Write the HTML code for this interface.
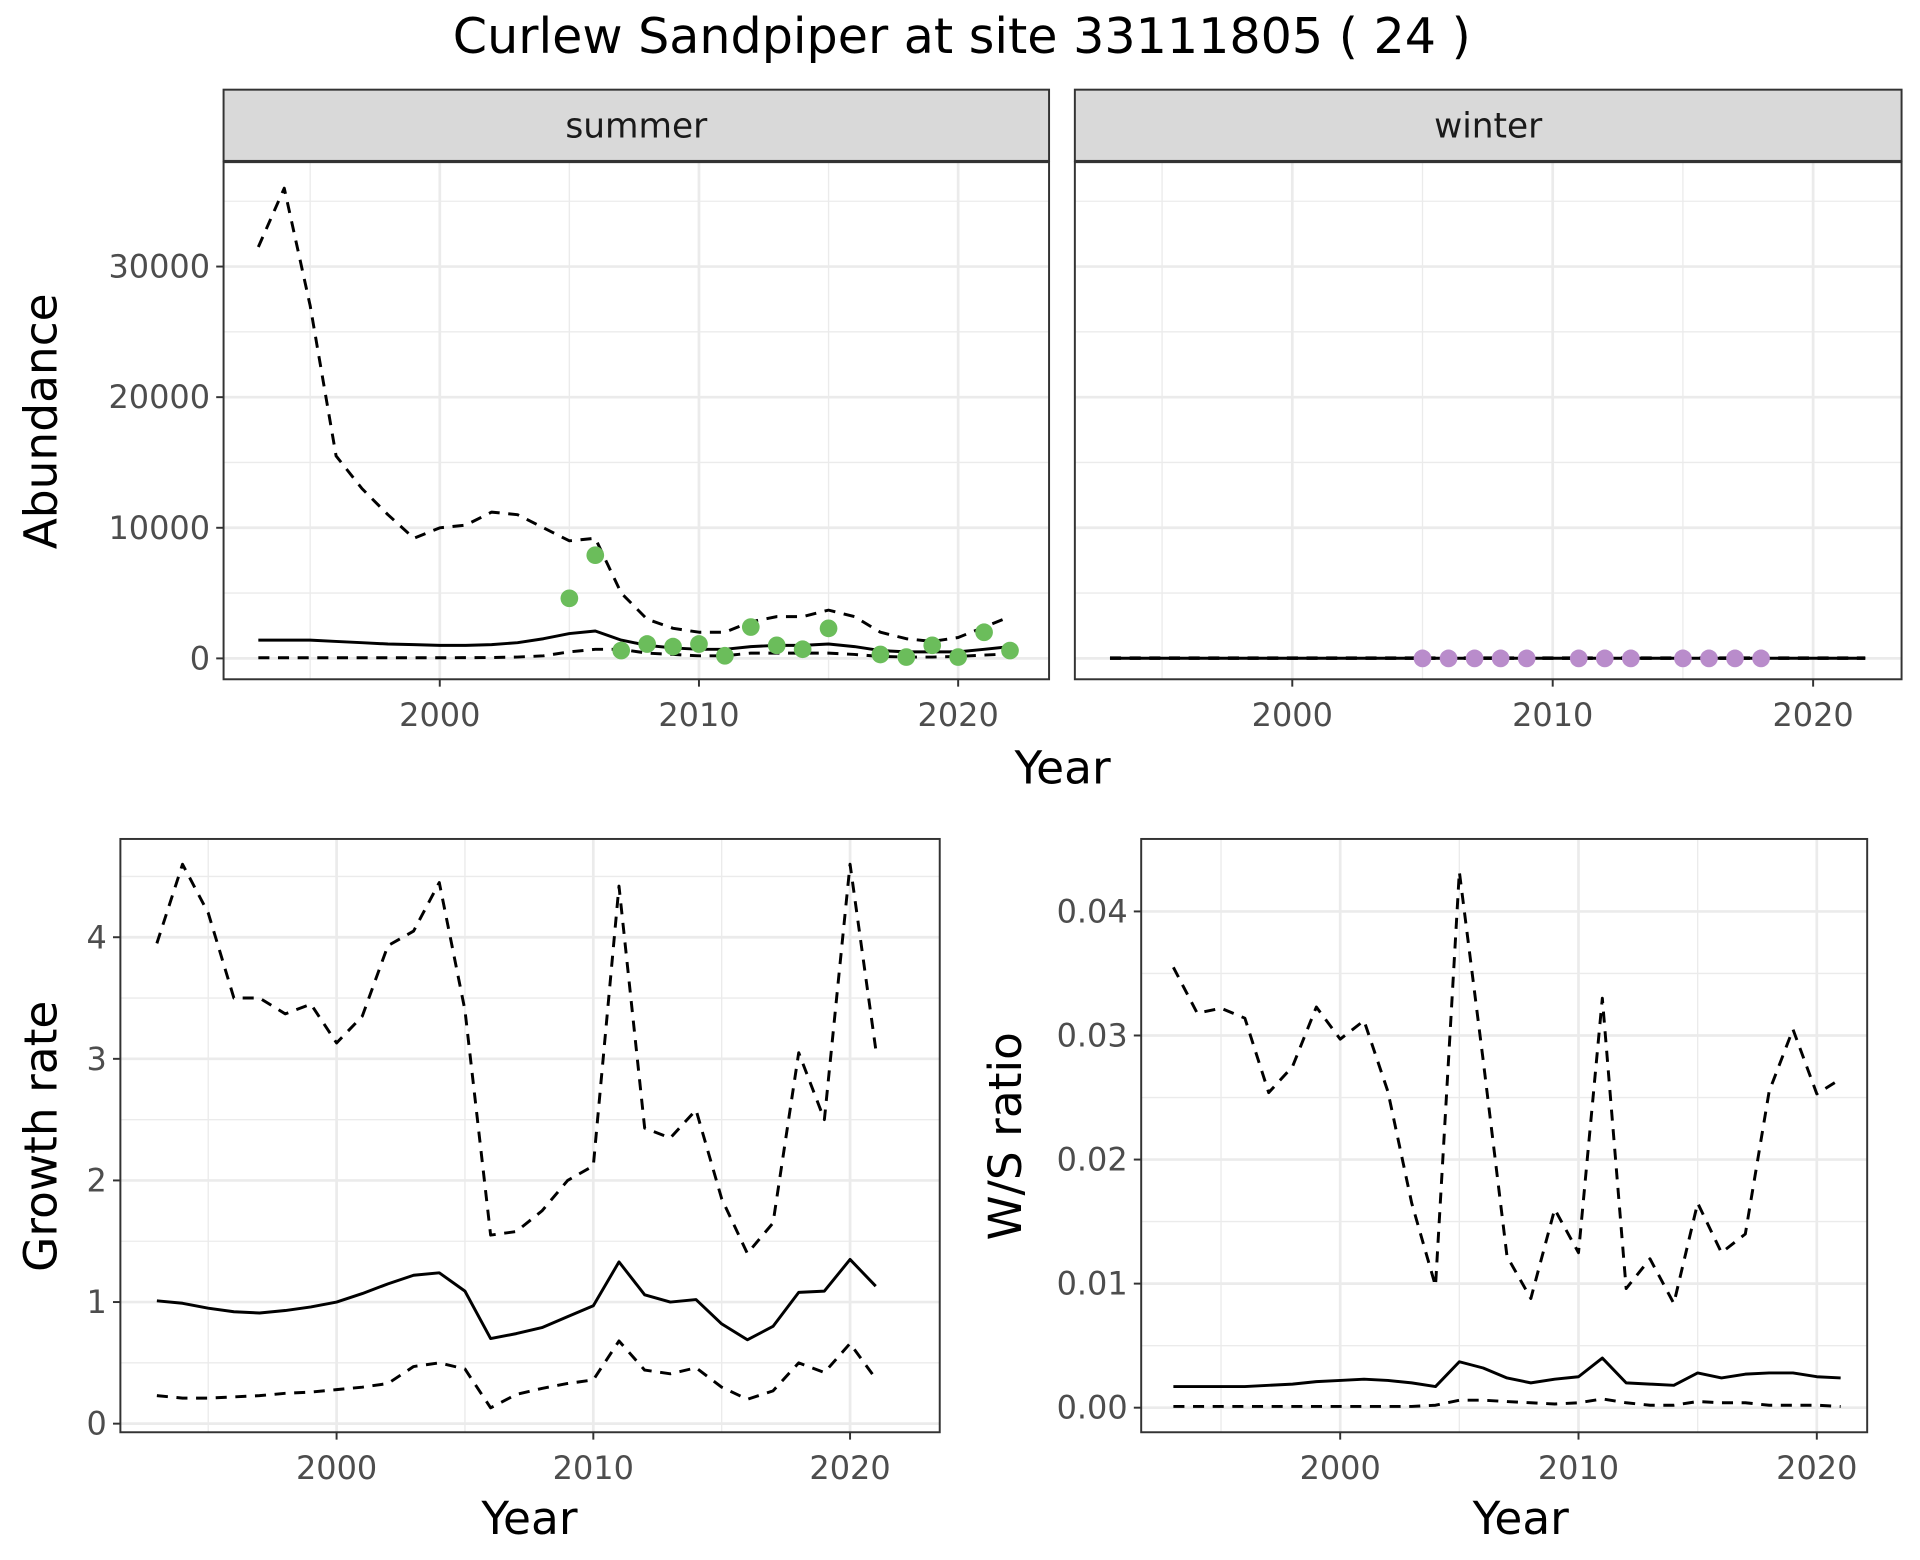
<!DOCTYPE html>
<html><head><meta charset="utf-8"><style>
html,body{margin:0;padding:0;background:#fff}
svg{display:block}
text{font-family:"DejaVu Sans","Liberation Sans",sans-serif}
</style></head><body>
<svg id="chart" width="1920" height="1560" viewBox="0 0 1563 1270" preserveAspectRatio="none" xmlns="http://www.w3.org/2000/svg">
<text x="783" y="43" font-size="40" text-anchor="middle" fill="#000">Curlew Sandpiper at site 33111805 ( 24 )</text>
</svg>
<script>
const yearsTop = [1993,1994,1995,1996,1997,1998,1999,2000,2001,2002,2003,2004,2005,2006,2007,2008,2009,2010,2011,2012,2013,2014,2015,2016,2017,2018,2019,2020,2021,2022];
const summerUpper = [31500,36000,27000,15500,13000,11000,9200,10000,10200,11200,11000,10000,9000,9200,5000,3000,2300,2000,2000,2800,3200,3200,3700,3200,2000,1500,1300,1600,2400,3200];
const summerMean = [1400,1400,1400,1300,1200,1100,1050,1000,1000,1050,1200,1500,1900,2100,1400,1000,800,700,700,900,1000,1000,1100,900,600,500,500,500,700,900];
const summerLower = [50,50,50,50,50,50,50,50,60,70,100,200,500,700,700,400,300,200,200,400,400,400,400,300,150,100,100,150,250,350];
const summerPtYears = [2005,2006,2007,2008,2009,2010,2011,2012,2013,2014,2015,2017,2018,2019,2020,2021,2022];
const summerPtVals = [4600,7900,600,1100,900,1100,200,2400,1000,700,2300,300,100,1000,100,2000,600];
const winterUpper = yearsTop.map(()=>40);
const winterMean = yearsTop.map(()=>10);
const winterLower = yearsTop.map(()=>0);
const winterPtYears = [2005,2006,2007,2008,2009,2011,2012,2013,2015,2016,2017,2018];
const winterPtVals = [0,0,0,0,0,0,0,0,0,0,0,0];
const yearsBot = [1993,1994,1995,1996,1997,1998,1999,2000,2001,2002,2003,2004,2005,2006,2007,2008,2009,2010,2011,2012,2013,2014,2015,2016,2017,2018,2019,2020,2021];
const grUpper = [3.95,4.6,4.2,3.5,3.5,3.37,3.45,3.13,3.35,3.93,4.05,4.45,3.4,1.55,1.58,1.75,2.0,2.12,4.42,2.43,2.35,2.58,1.85,1.4,1.65,3.05,2.5,4.6,3.08];
const grMean = [1.01,0.99,0.95,0.92,0.91,0.93,0.96,1.0,1.07,1.15,1.22,1.24,1.09,0.7,0.74,0.79,0.88,0.97,1.33,1.06,1.0,1.02,0.82,0.69,0.8,1.08,1.09,1.35,1.13];
const grLower = [0.23,0.21,0.21,0.22,0.23,0.25,0.26,0.28,0.3,0.33,0.47,0.5,0.45,0.13,0.24,0.29,0.33,0.36,0.68,0.44,0.41,0.46,0.3,0.2,0.27,0.5,0.42,0.66,0.37];
const wsUpper = [.0355,.0318,.0322,.0314,.0254,.0275,.0323,.0297,.0312,.0255,.0165,.0098,.0432,.0280,.0122,.0088,.0160,.0125,.0330,.0096,.0120,.0084,.0165,.0125,.0140,.0255,.0305,.0253,.0265];
const wsMean = [.0017,.0017,.0017,.0017,.0018,.0019,.0021,.0022,.0023,.0022,.0020,.0017,.0037,.0032,.0024,.0020,.0023,.0025,.0040,.0020,.0019,.0018,.0028,.0024,.0027,.0028,.0028,.0025,.0024];
const wsLower = [.0001,.0001,.0001,.0001,.0001,.0001,.0001,.0001,.0001,.0001,.0001,.0002,.0006,.0006,.0005,.0004,.0003,.0004,.0007,.0004,.0002,.0002,.0005,.0004,.0004,.0002,.0002,.0002,.0001];
const abTicks = [0,10000,20000,30000];
const grTicks = [0,1,2,3,4];
const wsTicks = [0,0.01,0.02,0.03,0.04];
const wsTickLabels = ["0.00","0.01","0.02","0.03","0.04"];
const yearTicks = [2000,2010,2020];

const svg = document.getElementById('chart');
const NS='http://www.w3.org/2000/svg';
function mk(tag, attrs, parent){const e=document.createElementNS(NS,tag);for(const k in attrs)e.setAttribute(k,attrs[k]);(parent||svg).appendChild(e);return e;}

function panel(o){
  const g=mk('g',{});
  
  
  const sx=v=>o.x0+(v-o.xa)*(o.x1-o.x0)/(o.xb-o.xa);
  const sy=v=>o.y0+(v-o.ya)*(o.y1-o.y0)/(o.yb-o.ya);
  o.xMinor.forEach(v=>{const l=mk('line',{x1:sx(v),x2:sx(v),y1:o.top,y2:o.bot,stroke:'#ebebeb','stroke-width':1.1},g);});
  o.yMinor.forEach(v=>{const l=mk('line',{x1:o.left,x2:o.right,y1:sy(v),y2:sy(v),stroke:'#ebebeb','stroke-width':1.1},g);});
  yearTicks.forEach(v=>{const l=mk('line',{x1:sx(v),x2:sx(v),y1:o.top,y2:o.bot,stroke:'#ebebeb','stroke-width':2.2},g);});
  o.yTicks.forEach(v=>{const l=mk('line',{x1:o.left,x2:o.right,y1:sy(v),y2:sy(v),stroke:'#ebebeb','stroke-width':2.2},g);});
  [[o.upper,true],[o.lower,true],[o.mean,false]].forEach(([arr,d])=>{
    const p=mk('path',{d:arr.map((v,i)=>(i?'L':'M')+sx(o.years[i]).toFixed(1)+','+sy(v).toFixed(1)).join(''),fill:'none',stroke:'#000','stroke-width':2.4,'stroke-dasharray':d?'9,7':'none','stroke-linejoin':'round'},g);
    
    
  });
  if(o.ptYears){o.ptYears.forEach((y,i)=>{const c=mk('circle',{cx:sx(y),cy:sy(o.ptVals[i]),r:7.2,fill:o.ptColor},g);});}
  const b=mk('rect',{x:o.left,y:o.top,width:o.right-o.left,height:o.bot-o.top,fill:'none',stroke:'#333','stroke-width':1.6},g);
  
  yearTicks.forEach(v=>{mk('line',{x1:sx(v),x2:sx(v),y1:o.bot,y2:o.bot+6,stroke:'#333','stroke-width':1.6},g);
    const t=mk('text',{x:sx(v),y:o.bot+38,'font-size':26,'text-anchor':'middle',fill:'#4d4d4d'},g);t.textContent=v;});
  if(o.yLabels){o.yTicks.forEach((v,i)=>{mk('line',{x1:o.left-6,x2:o.left,y1:sy(v),y2:sy(v),stroke:'#333','stroke-width':1.6},g);
    const t=mk('text',{x:o.left-11,y:sy(v)+9,'font-size':26,'text-anchor':'end',fill:'#4d4d4d'},g);t.textContent=o.yLabels[i];});}
  if(o.strip){const r=mk('rect',{x:o.left,y:73,width:o.right-o.left,height:58,fill:'#d9d9d9',stroke:'#333','stroke-width':1.6},g);
    const t=mk('text',{x:(o.left+o.right)/2,y:112,'font-size':28,'text-anchor':'middle',fill:'#1a1a1a'},g);t.textContent=o.strip;}
}
const pTop={years:yearsTop,xa:2000,xb:2020,ya:0,yb:30000,y0:536,y1:217,top:132,bot:553,yTicks:abTicks,yMinor:[5000,15000,25000,35000],xMinor:[1995,2005,2015]};
panel(Object.assign({},pTop,{name:'summer-panel',x0:358,x1:780,left:182,right:854,upper:summerUpper,mean:summerMean,lower:summerLower,ptYears:summerPtYears,ptVals:summerPtVals,ptColor:'#6bbd5b',yLabels:abTicks.map(String),strip:'summer'}));
panel(Object.assign({},pTop,{name:'winter-panel',x0:1052,x1:1476,left:875,right:1548,upper:winterUpper,mean:winterMean,lower:winterLower,ptYears:winterPtYears,ptVals:winterPtVals,ptColor:'#b98ccb',yLabels:null,strip:'winter'}));
panel({name:'growth-rate-panel',years:yearsBot,xa:2000,xb:2020,x0:274,x1:692,ya:0,yb:4,y0:1159,y1:763,left:98,right:765,top:683,bot:1166,yTicks:grTicks,yMinor:[0.5,1.5,2.5,3.5,4.5],xMinor:[1995,2005,2015],upper:grUpper,mean:grMean,lower:grLower,yLabels:grTicks.map(String)});
panel({name:'ws-ratio-panel',years:yearsBot,xa:2000,xb:2020,x0:1091,x1:1479,ya:0,yb:0.04,y0:1146,y1:742,left:929,right:1520,top:683,bot:1166,yTicks:wsTicks,yMinor:[0.005,0.015,0.025,0.035],xMinor:[1995,2005,2015],upper:wsUpper,mean:wsMean,lower:wsLower,yLabels:wsTickLabels});
function label(txt,x,y,rot,name){const t=mk('text',{x:x,y:y,'font-size':37,'text-anchor':'middle',fill:'#000',transform:rot?`rotate(-90 ${x} ${y})`:''});t.textContent=txt;
  
  }
label('Abundance',46,343,true,'y-axis-title-abundance');
label('Year',865,638,false,'x-axis-title-top');
label('Growth rate',46,925,true,'y-axis-title-growth');
label('Year',431,1249,false,'x-axis-title-growth');
label('W/S ratio',831,925,true,'y-axis-title-ws');
label('Year',1238,1249,false,'x-axis-title-ws');
</script>
</body></html>
